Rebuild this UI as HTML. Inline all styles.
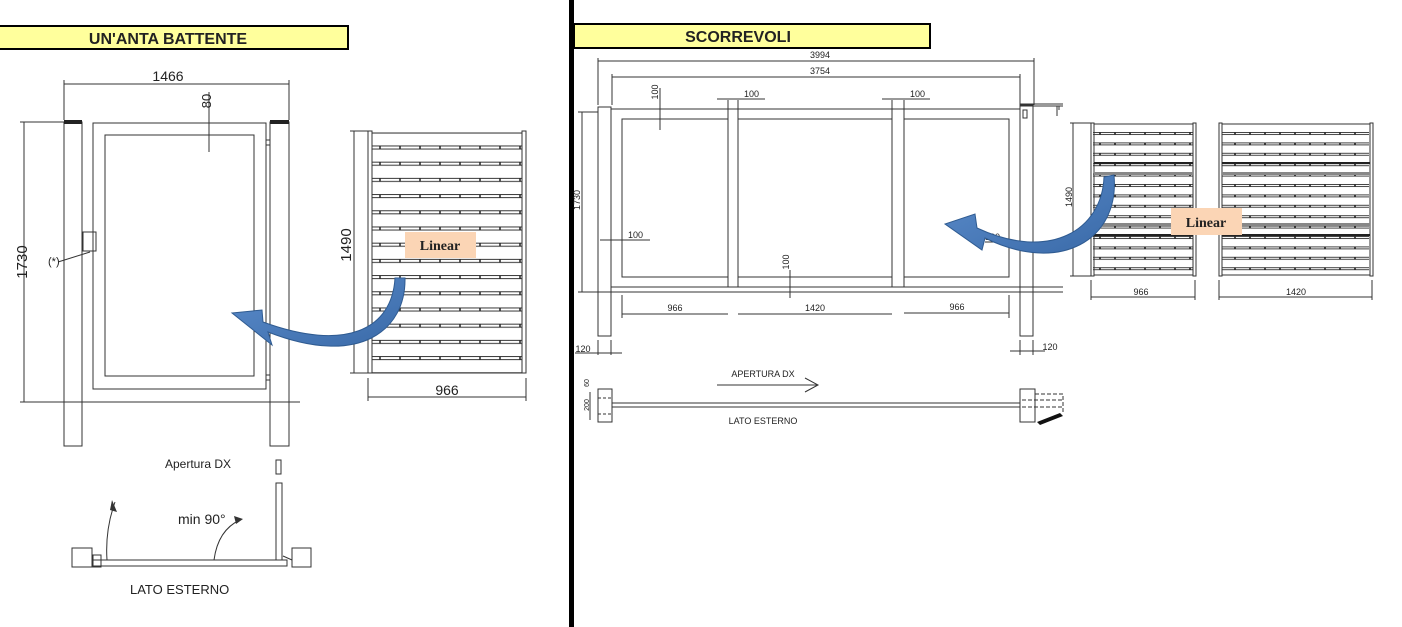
<!DOCTYPE html>
<html><head><meta charset="utf-8"><style>
html,body{margin:0;padding:0;background:#fff;}
svg{display:block;}
text{font-family:"Liberation Sans",sans-serif;fill:#222;}
</style></head><body>
<svg width="1402" height="627" viewBox="0 0 1402 627" xmlns="http://www.w3.org/2000/svg">
<defs>
<pattern id="slatL" x="370" y="144" width="20" height="16.2" patternUnits="userSpaceOnUse">
<line x1="0" y1="2" x2="20" y2="2" stroke="#333" stroke-width="1"/>
<line x1="0" y1="5" x2="20" y2="5" stroke="#333" stroke-width="1"/>
<line x1="10" y1="2" x2="10" y2="5" stroke="#222" stroke-width="1.5"/>
</pattern>
<pattern id="slatR" x="1093" y="131" width="15" height="10.4" patternUnits="userSpaceOnUse">
<line x1="0" y1="1.5" x2="15" y2="1.5" stroke="#444" stroke-width="1"/>
<line x1="0" y1="3.5" x2="15" y2="3.5" stroke="#444" stroke-width="1"/>
<line x1="7" y1="1.5" x2="7" y2="3.5" stroke="#111" stroke-width="1.5"/>
</pattern>
<linearGradient id="blu" x1="0" y1="0" x2="1" y2="1">
<stop offset="0" stop-color="#5b8ccb"/><stop offset="1" stop-color="#3a6aa8"/>
</linearGradient>
</defs>

<!-- divider -->
<rect x="569" y="0" width="5" height="627" fill="#000"/>

<!-- LEFT TITLE -->
<rect x="-2" y="26" width="350" height="23" fill="#ffff9c" stroke="#000" stroke-width="2"/>
<text x="168" y="44" font-size="16" font-weight="bold" text-anchor="middle" fill="#000">UN'ANTA BATTENTE</text>

<g stroke="#333" stroke-width="1" fill="none">
<!-- 1466 dim -->
<line x1="64" y1="84" x2="289" y2="84"/>
<line x1="64" y1="80" x2="64" y2="120"/>
<line x1="289" y1="80" x2="289" y2="120"/>
<!-- posts -->
<rect x="64" y="122" width="18" height="324"/>
<rect x="270" y="122" width="19" height="324"/>
<!-- gate frame -->
<rect x="93" y="123" width="173" height="266"/>
<rect x="105" y="135" width="149" height="241"/>
<!-- ground -->
<line x1="40" y1="402" x2="300" y2="402"/>
<!-- 1730 dim -->
<line x1="24" y1="122" x2="24" y2="402"/>
<line x1="20" y1="122" x2="64" y2="122"/>
<line x1="20" y1="402" x2="40" y2="402"/>
<!-- 80 dim -->
<line x1="209" y1="92" x2="209" y2="152"/>
<!-- lock -->
<rect x="83" y="232" width="13" height="19"/>
<line x1="58" y1="262" x2="90" y2="252"/>
<!-- hinges -->
<rect x="266" y="140" width="4" height="5"/>
<rect x="266" y="375" width="4" height="5"/>
</g>
<rect x="64" y="120" width="18" height="4" fill="#222"/>
<rect x="270" y="120" width="19" height="4" fill="#222"/>
<text x="168" y="81" font-size="14" text-anchor="middle">1466</text>
<text x="22" y="262" font-size="15" text-anchor="middle" transform="rotate(-90 22 262)" dy="5">1730</text>
<text x="207" y="101" font-size="13" text-anchor="middle" transform="rotate(-90 207 101)" dy="4">80</text>
<text x="48" y="265" font-size="11">(*)</text>

<!-- left sample panel -->
<rect x="372" y="133" width="150" height="240" fill="url(#slatL)"/>
<g stroke="#333" stroke-width="1" fill="none">
<rect x="368" y="131" width="4" height="242"/>
<rect x="522" y="131" width="4" height="242"/>
<line x1="372" y1="133" x2="522" y2="133"/>
<line x1="372" y1="373" x2="522" y2="373"/>
<line x1="354" y1="131" x2="354" y2="373"/>
<line x1="350" y1="131" x2="368" y2="131"/>
<line x1="350" y1="373" x2="368" y2="373"/>
<line x1="368" y1="397" x2="526" y2="397"/>
<line x1="368" y1="378" x2="368" y2="401"/>
<line x1="526" y1="378" x2="526" y2="401"/>
</g>
<text x="346" y="245" font-size="15" text-anchor="middle" transform="rotate(-90 346 245)" dy="5">1490</text>
<text x="447" y="395" font-size="14" text-anchor="middle">966</text>
<rect x="405" y="232" width="71" height="26" fill="#fbd5b5"/>
<text x="440" y="250" font-size="14" font-weight="bold" text-anchor="middle" fill="#111" style="font-family:'Liberation Serif',serif">Linear</text>
<!-- left blue arrow -->
<path d="M395,278 L405,278 C406,330 360,368 268,332 L272,345 L232,313 L262,310 L263,322 C345,352 392,330 395,278 Z" fill="url(#blu)" stroke="#2f5b91" stroke-width="1"/>

<!-- bottom left plan -->
<text x="165" y="468" font-size="12" fill="#333">Apertura DX</text>
<g stroke="#333" stroke-width="1" fill="none">
<rect x="276" y="460" width="5" height="14"/>
<rect x="276" y="483" width="6" height="77"/>
<rect x="72" y="548" width="20" height="19"/>
<rect x="292" y="548" width="19" height="19"/>
<rect x="92" y="560" width="195" height="6"/>
<rect x="93" y="555" width="8" height="12"/>
<path d="M107,560 Q105,530 115,502"/>
<path d="M214,560 Q218,530 240,520"/>
<path d="M283,556 L292,560"/>
</g>
<path d="M112,500 L117,512 L110,510 Z" fill="#333"/>
<path d="M243,519 L234,516 L236,524 Z" fill="#333"/>
<text x="178" y="524" font-size="14" fill="#333">min 90°</text>
<text x="130" y="594" font-size="13" fill="#333">LATO ESTERNO</text>

<!-- RIGHT TITLE -->
<rect x="574" y="24" width="356" height="24" fill="#ffff9c" stroke="#000" stroke-width="2"/>
<text x="738" y="42" font-size="16" font-weight="bold" text-anchor="middle" fill="#000">SCORREVOLI</text>

<g stroke="#333" stroke-width="1" fill="none">
<line x1="598" y1="61" x2="1034" y2="61"/>
<line x1="598" y1="58" x2="598" y2="105"/>
<line x1="1034" y1="58" x2="1034" y2="105"/>
<line x1="612" y1="77" x2="1020" y2="77"/>
<line x1="612" y1="74" x2="612" y2="105"/>
<line x1="1020" y1="74" x2="1020" y2="105"/>
<rect x="598" y="107" width="13" height="229"/>
<rect x="1020" y="105" width="13" height="231"/>
<line x1="611" y1="109" x2="1020" y2="109"/>
<line x1="1020" y1="104" x2="1063" y2="104"/>
<line x1="1020" y1="106" x2="1063" y2="106"/>
<rect x="1023" y="110" width="4" height="8"/>
<path d="M1057,106 L1057,116 M1059,110 L1059,106"/>
<rect x="622" y="119" width="106" height="158"/>
<rect x="738" y="119" width="154" height="158"/>
<rect x="904" y="119" width="105" height="158"/>
<line x1="611" y1="287" x2="1063" y2="287"/>
<line x1="611" y1="292" x2="1063" y2="292"/>
<line x1="728" y1="100" x2="728" y2="287"/>
<line x1="738" y1="100" x2="738" y2="287"/>
<line x1="892" y1="100" x2="892" y2="287"/>
<line x1="904" y1="100" x2="904" y2="287"/>
<line x1="717" y1="99" x2="765" y2="99"/>
<line x1="882" y1="99" x2="930" y2="99"/>
<line x1="660" y1="88" x2="660" y2="130"/>
<line x1="790" y1="270" x2="790" y2="298"/>
<line x1="600" y1="240" x2="650" y2="240"/>
<line x1="985" y1="242" x2="1032" y2="242"/>
<line x1="582" y1="112" x2="582" y2="292"/>
<line x1="578" y1="112" x2="598" y2="112"/>
<line x1="578" y1="292" x2="611" y2="292"/>
<line x1="622" y1="314" x2="728" y2="314"/>
<line x1="738" y1="314" x2="892" y2="314"/>
<line x1="904" y1="313" x2="1009" y2="313"/>
<line x1="622" y1="295" x2="622" y2="318"/>
<line x1="1009" y1="295" x2="1009" y2="318"/>
<line x1="598" y1="340" x2="598" y2="355"/>
<line x1="611" y1="340" x2="611" y2="355"/>
<line x1="575" y1="353" x2="622" y2="353"/>
<line x1="1020" y1="340" x2="1020" y2="355"/>
<line x1="1033" y1="340" x2="1033" y2="355"/>
<line x1="1010" y1="351" x2="1045" y2="351"/>
<!-- plan -->
<line x1="717" y1="385" x2="818" y2="385"/>
<path d="M805,378 L818,385 L805,392"/>
<rect x="598" y="389" width="14" height="33"/>
<rect x="1020" y="389" width="15" height="33"/>
<rect x="612" y="403" width="408" height="4"/>
<path d="M1035,394 L1063,394 L1063,412 M1022,400 L1063,400 M1022,407 L1063,407" stroke-dasharray="4,2"/>
<path d="M598,398 L612,398 M598,414 L612,414" stroke-dasharray="3,2"/>
<line x1="590" y1="392" x2="590" y2="420"/>
</g>
<path d="M1037,422 L1060,413 L1063,416 L1040,425 Z" fill="#111"/>
<text x="820" y="58" font-size="9" text-anchor="middle" fill="#444">3994</text>
<text x="820" y="74" font-size="9" text-anchor="middle" fill="#444">3754</text>
<text x="744" y="97" font-size="9" fill="#444">100</text>
<text x="910" y="97" font-size="9" fill="#444">100</text>
<text x="655" y="92" font-size="9" fill="#444" transform="rotate(-90 655 92)" text-anchor="middle" dy="3">100</text>
<text x="628" y="238" font-size="9" fill="#444">100</text>
<text x="985" y="240" font-size="9" fill="#444">100</text>
<text x="786" y="262" font-size="9" fill="#444" transform="rotate(-90 786 262)" text-anchor="middle" dy="3">100</text>
<text x="577" y="200" font-size="9" fill="#444" transform="rotate(-90 577 200)" text-anchor="middle" dy="3">1730</text>
<text x="675" y="311" font-size="9" text-anchor="middle" fill="#444">966</text>
<text x="815" y="311" font-size="9" text-anchor="middle" fill="#444">1420</text>
<text x="957" y="310" font-size="9" text-anchor="middle" fill="#444">966</text>
<text x="583" y="352" font-size="9" text-anchor="middle" fill="#444">120</text>
<text x="1050" y="350" font-size="9" text-anchor="middle" fill="#444">120</text>
<text x="763" y="377" font-size="9" text-anchor="middle" fill="#444">APERTURA DX</text>
<text x="763" y="424" font-size="9" text-anchor="middle" fill="#444">LATO ESTERNO</text>
<text x="587" y="383" font-size="7" fill="#444" transform="rotate(-90 587 383)" text-anchor="middle" dy="2">60</text>
<text x="587" y="405" font-size="7" fill="#444" transform="rotate(-90 587 405)" text-anchor="middle" dy="2">200</text>

<!-- right sample panels -->
<rect x="1093" y="125" width="100" height="150" fill="url(#slatR)"/>
<rect x="1222" y="125" width="147" height="150" fill="url(#slatR)"/>
<g stroke="#333" stroke-width="1" fill="none">
<rect x="1091" y="123" width="3" height="153"/>
<rect x="1193" y="123" width="3" height="153"/>
<rect x="1219" y="123" width="3" height="153"/>
<rect x="1370" y="123" width="3" height="153"/>
<line x1="1094" y1="124" x2="1193" y2="124"/>
<line x1="1222" y1="124" x2="1370" y2="124"/>
<line x1="1094" y1="275" x2="1193" y2="275"/>
<line x1="1222" y1="275" x2="1370" y2="275"/>
<line x1="1073" y1="123" x2="1073" y2="276"/>
<line x1="1070" y1="123" x2="1091" y2="123"/>
<line x1="1070" y1="276" x2="1091" y2="276"/>
<line x1="1091" y1="297" x2="1195" y2="297"/>
<line x1="1219" y1="297" x2="1372" y2="297"/>
<line x1="1091" y1="280" x2="1091" y2="300"/>
<line x1="1195" y1="280" x2="1195" y2="300"/>
<line x1="1219" y1="280" x2="1219" y2="300"/>
<line x1="1372" y1="280" x2="1372" y2="300"/>
</g>
<rect x="1094" y="162" width="99" height="2" fill="#222"/>
<rect x="1222" y="162" width="148" height="2" fill="#222"/>
<rect x="1094" y="234" width="99" height="2" fill="#222"/>
<rect x="1222" y="234" width="148" height="2" fill="#222"/>
<rect x="1094" y="172" width="99" height="3" fill="#888"/>
<rect x="1222" y="172" width="148" height="3" fill="#888"/>
<rect x="1094" y="223" width="99" height="3" fill="#888"/>
<rect x="1222" y="223" width="148" height="3" fill="#888"/>
<text x="1069" y="197" font-size="9" fill="#444" transform="rotate(-90 1069 197)" text-anchor="middle" dy="3">1490</text>
<text x="1141" y="295" font-size="9" text-anchor="middle" fill="#444">966</text>
<text x="1296" y="295" font-size="9" text-anchor="middle" fill="#444">1420</text>
<rect x="1171" y="208" width="71" height="27" fill="#fbd5b5"/>
<text x="1206" y="227" font-size="14" font-weight="bold" text-anchor="middle" fill="#111" style="font-family:'Liberation Serif',serif">Linear</text>
<!-- right blue arrow -->
<path d="M1104,177 L1114,175 C1120,240 1060,275 985,238 L982,250 L945,224 L975,214 L977,228 C1050,262 1102,230 1104,177 Z" fill="url(#blu)" stroke="#2f5b91" stroke-width="1"/>
</svg>
</body></html>
